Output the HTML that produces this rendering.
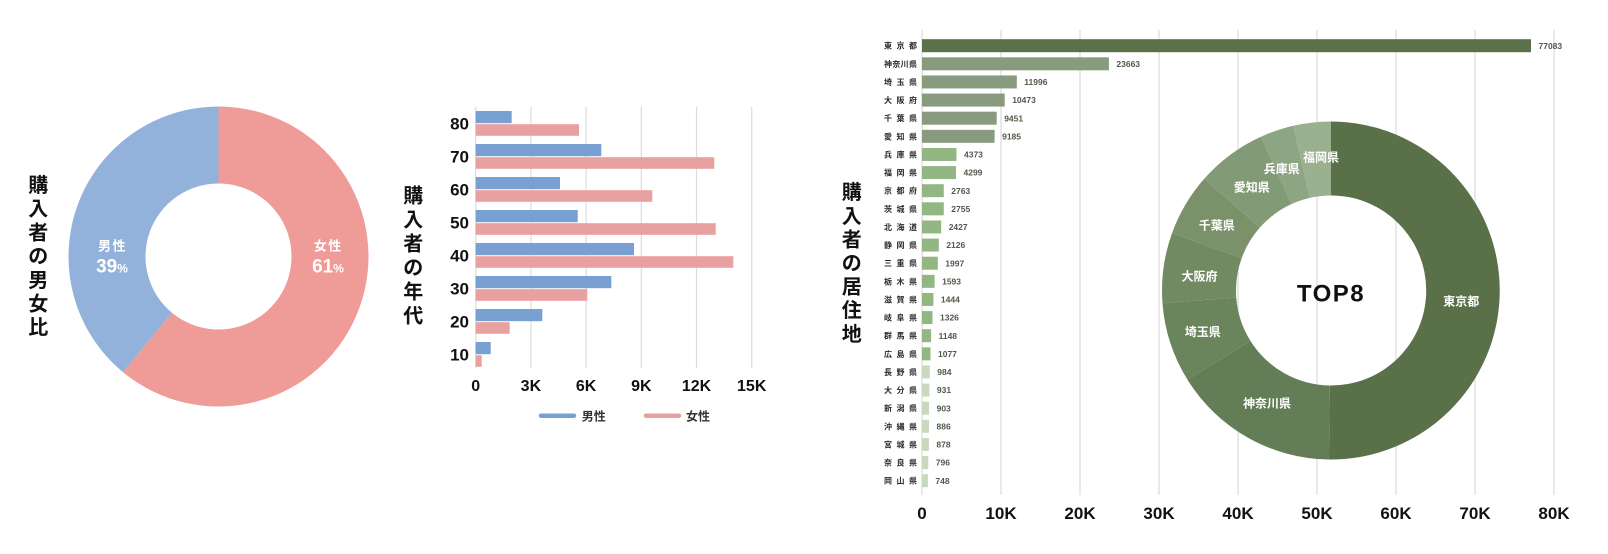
<!DOCTYPE html>
<html>
<head>
<meta charset="utf-8">
<style>
  html,body{margin:0;padding:0;background:#ffffff;}
  body{width:1608px;height:554px;overflow:hidden;}
  svg{display:block;font-family:"Liberation Sans","Noto Sans CJK JP",sans-serif;}
</style>
</head>
<body>
<svg width="1608" height="554" viewBox="0 0 1608 554" xmlns="http://www.w3.org/2000/svg">
  <rect x="0" y="0" width="1608" height="554" fill="#ffffff"/>

  <!-- ============ LEFT: gender donut ============ -->
  <g font-weight="bold" fill="#111" font-size="20" text-anchor="middle">
    <text x="38.3" y="192">購</text>
    <text x="38.3" y="215.7">入</text>
    <text x="38.3" y="239.4">者</text>
    <text x="38.3" y="263.1">の</text>
    <text x="38.3" y="286.8">男</text>
    <text x="38.3" y="310.5">女</text>
    <text x="38.3" y="334.2">比</text>
  </g>
  <path d="M218.5,106.5 A150,150 0 1 1 122.89,372.08 L171.97,312.75 A73,73 0 1 0 218.5,183.5 Z" fill="#ef9b98"/>
  <path d="M122.89,372.08 A150,150 0 0 1 218.5,106.5 L218.5,183.5 A73,73 0 0 0 171.97,312.75 Z" fill="#93b2db"/>
  <g fill="#ffffff" font-weight="bold" text-anchor="middle">
    <text x="112.5" y="250.5" font-size="13" letter-spacing="1.5">男性</text>
    <text x="112" y="272.5" font-size="19">39<tspan font-size="12">%</tspan></text>
    <text x="328.3" y="250.5" font-size="13" letter-spacing="1.5">女性</text>
    <text x="328" y="272.5" font-size="19">61<tspan font-size="12">%</tspan></text>
  </g>

  <!-- ============ MIDDLE: age bar chart ============ -->
  <g font-weight="bold" fill="#111" font-size="20" text-anchor="middle">
    <text x="413.3" y="202.5">購</text>
    <text x="413.3" y="226.5">入</text>
    <text x="413.3" y="250.5">者</text>
    <text x="413.3" y="274.5">の</text>
    <text x="413.3" y="298.5">年</text>
    <text x="413.3" y="322.5">代</text>
  </g>
  <g stroke="#dcdcdc" stroke-width="1.2">
    <line x1="475.7" y1="106.7" x2="475.7" y2="368.3"/>
    <line x1="530.9" y1="106.7" x2="530.9" y2="368.3"/>
    <line x1="586.1" y1="106.7" x2="586.1" y2="368.3"/>
    <line x1="641.3" y1="106.7" x2="641.3" y2="368.3"/>
    <line x1="696.5" y1="106.7" x2="696.5" y2="368.3"/>
    <line x1="751.7" y1="106.7" x2="751.7" y2="368.3"/>
  </g>
  <g fill="#78a0d2">
    <rect x="475.7" y="111" width="36" height="12.2"/>
    <rect x="475.7" y="144" width="125.6" height="12.2"/>
    <rect x="475.7" y="177" width="84.3" height="12.2"/>
    <rect x="475.7" y="210" width="102" height="12.2"/>
    <rect x="475.7" y="243" width="158.3" height="12.2"/>
    <rect x="475.7" y="276" width="135.6" height="12.2"/>
    <rect x="475.7" y="309" width="66.6" height="12.2"/>
    <rect x="475.7" y="342" width="15" height="12.2"/>
  </g>
  <g fill="#e9a0a0">
    <rect x="475.7" y="124.2" width="103.3" height="11.6"/>
    <rect x="475.7" y="157.2" width="238.6" height="11.6"/>
    <rect x="475.7" y="190.2" width="176.6" height="11.6"/>
    <rect x="475.7" y="223.2" width="240" height="11.6"/>
    <rect x="475.7" y="256.2" width="257.6" height="11.6"/>
    <rect x="475.7" y="289.2" width="111.6" height="11.6"/>
    <rect x="475.7" y="322.2" width="34" height="11.6"/>
    <rect x="475.7" y="355.2" width="6" height="11.6"/>
  </g>
  <g font-weight="bold" fill="#111" font-size="17" text-anchor="end">
    <text x="469" y="129.3">80</text>
    <text x="469" y="162.3">70</text>
    <text x="469" y="195.3">60</text>
    <text x="469" y="228.3">50</text>
    <text x="469" y="261.3">40</text>
    <text x="469" y="294.3">30</text>
    <text x="469" y="327.3">20</text>
    <text x="469" y="360.3">10</text>
  </g>
  <g font-weight="bold" fill="#111" font-size="16" text-anchor="middle">
    <text x="475.7" y="391">0</text>
    <text x="530.9" y="391">3K</text>
    <text x="586.1" y="391">6K</text>
    <text x="641.3" y="391">9K</text>
    <text x="696.5" y="391">12K</text>
    <text x="751.7" y="391">15K</text>
  </g>
  <line x1="541" y1="415.7" x2="574" y2="415.7" stroke="#78a0d2" stroke-width="4.5" stroke-linecap="round"/>
  <text x="581.7" y="420.5" font-size="12" font-weight="bold" fill="#333">男性</text>
  <line x1="646" y1="415.7" x2="679" y2="415.7" stroke="#e9a0a0" stroke-width="4.5" stroke-linecap="round"/>
  <text x="686" y="420.5" font-size="12" font-weight="bold" fill="#333">女性</text>

  <!-- ============ RIGHT: residence bar chart ============ -->
  <g font-weight="bold" fill="#111" font-size="20" text-anchor="middle">
    <text x="851.7" y="199.2">購</text>
    <text x="851.7" y="222.8">入</text>
    <text x="851.7" y="246.4">者</text>
    <text x="851.7" y="270">の</text>
    <text x="851.7" y="293.6">居</text>
    <text x="851.7" y="317.2">住</text>
    <text x="851.7" y="340.8">地</text>
  </g>
  <g stroke="#dadada" stroke-width="1.2">
    <line x1="922" y1="30" x2="922" y2="495"/>
    <line x1="1001" y1="30" x2="1001" y2="495"/>
    <line x1="1080" y1="30" x2="1080" y2="495"/>
    <line x1="1159" y1="30" x2="1159" y2="495"/>
    <line x1="1238" y1="30" x2="1238" y2="495"/>
    <line x1="1317" y1="30" x2="1317" y2="495"/>
    <line x1="1396" y1="30" x2="1396" y2="495"/>
    <line x1="1475" y1="30" x2="1475" y2="495"/>
    <line x1="1554" y1="30" x2="1554" y2="495"/>
  </g>
  <!-- bars: center y = 45.7 + 18.125*i, height 13 -->
  <g>
    <rect x="922" y="39.2" width="609" height="13" fill="#5b7149"/>
    <rect x="922" y="57.33" width="186.9" height="13" fill="#889b7e"/>
    <rect x="922" y="75.45" width="94.8" height="13" fill="#889b7e"/>
    <rect x="922" y="93.58" width="82.7" height="13" fill="#889b7e"/>
    <rect x="922" y="111.7" width="74.7" height="13" fill="#889b7e"/>
    <rect x="922" y="129.83" width="72.6" height="13" fill="#889b7e"/>
    <rect x="922" y="147.95" width="34.5" height="13" fill="#93b783"/>
    <rect x="922" y="166.08" width="34" height="13" fill="#93b783"/>
    <rect x="922" y="184.2" width="21.8" height="13" fill="#93b783"/>
    <rect x="922" y="202.33" width="21.8" height="13" fill="#93b783"/>
    <rect x="922" y="220.45" width="19.2" height="13" fill="#93b783"/>
    <rect x="922" y="238.58" width="16.8" height="13" fill="#93b783"/>
    <rect x="922" y="256.7" width="15.8" height="13" fill="#93b783"/>
    <rect x="922" y="274.83" width="12.6" height="13" fill="#93b783"/>
    <rect x="922" y="292.95" width="11.4" height="13" fill="#93b783"/>
    <rect x="922" y="311.08" width="10.5" height="13" fill="#93b783"/>
    <rect x="922" y="329.2" width="9.1" height="13" fill="#93b783"/>
    <rect x="922" y="347.33" width="8.5" height="13" fill="#93b783"/>
    <rect x="922" y="365.45" width="7.8" height="13" fill="#c9d9bf"/>
    <rect x="922" y="383.58" width="7.4" height="13" fill="#c9d9bf"/>
    <rect x="922" y="401.7" width="7.1" height="13" fill="#c9d9bf"/>
    <rect x="922" y="419.83" width="7" height="13" fill="#c9d9bf"/>
    <rect x="922" y="437.95" width="6.9" height="13" fill="#c9d9bf"/>
    <rect x="922" y="456.08" width="6.3" height="13" fill="#c9d9bf"/>
    <rect x="922" y="474.2" width="5.9" height="13" fill="#c9d9bf"/>
  </g>
  <!-- category labels -->
  <g font-weight="bold" fill="#2b2b2b" font-size="8">
    <text x="884" y="48.7" textLength="33" lengthAdjust="spacing">東京都</text>
    <text x="884" y="66.83" textLength="33" lengthAdjust="spacing">神奈川県</text>
    <text x="884" y="84.95" textLength="33" lengthAdjust="spacing">埼玉県</text>
    <text x="884" y="103.08" textLength="33" lengthAdjust="spacing">大阪府</text>
    <text x="884" y="121.2" textLength="33" lengthAdjust="spacing">千葉県</text>
    <text x="884" y="139.33" textLength="33" lengthAdjust="spacing">愛知県</text>
    <text x="884" y="157.45" textLength="33" lengthAdjust="spacing">兵庫県</text>
    <text x="884" y="175.58" textLength="33" lengthAdjust="spacing">福岡県</text>
    <text x="884" y="193.7" textLength="33" lengthAdjust="spacing">京都府</text>
    <text x="884" y="211.83" textLength="33" lengthAdjust="spacing">茨城県</text>
    <text x="884" y="229.95" textLength="33" lengthAdjust="spacing">北海道</text>
    <text x="884" y="248.08" textLength="33" lengthAdjust="spacing">静岡県</text>
    <text x="884" y="266.2" textLength="33" lengthAdjust="spacing">三重県</text>
    <text x="884" y="284.33" textLength="33" lengthAdjust="spacing">栃木県</text>
    <text x="884" y="302.45" textLength="33" lengthAdjust="spacing">滋賀県</text>
    <text x="884" y="320.58" textLength="33" lengthAdjust="spacing">岐阜県</text>
    <text x="884" y="338.7" textLength="33" lengthAdjust="spacing">群馬県</text>
    <text x="884" y="356.83" textLength="33" lengthAdjust="spacing">広島県</text>
    <text x="884" y="374.95" textLength="33" lengthAdjust="spacing">長野県</text>
    <text x="884" y="393.08" textLength="33" lengthAdjust="spacing">大分県</text>
    <text x="884" y="411.2" textLength="33" lengthAdjust="spacing">新潟県</text>
    <text x="884" y="429.33" textLength="33" lengthAdjust="spacing">沖縄県</text>
    <text x="884" y="447.45" textLength="33" lengthAdjust="spacing">宮城県</text>
    <text x="884" y="465.58" textLength="33" lengthAdjust="spacing">奈良県</text>
    <text x="884" y="483.7" textLength="33" lengthAdjust="spacing">岡山県</text>
  </g>
  <!-- value labels -->
  <g fill="#4f5a49" font-size="8.5" font-weight="bold">
    <text x="1538.5" y="48.8">77083</text>
    <text x="1116.4" y="66.9">23663</text>
    <text x="1024.3" y="85">11996</text>
    <text x="1012.2" y="103.2">10473</text>
    <text x="1004.2" y="121.3">9451</text>
    <text x="1002.1" y="139.4">9185</text>
    <text x="964" y="157.5">4373</text>
    <text x="963.5" y="175.7">4299</text>
    <text x="951.3" y="193.8">2763</text>
    <text x="951.3" y="211.9">2755</text>
    <text x="948.7" y="230">2427</text>
    <text x="946.3" y="248.2">2126</text>
    <text x="945.3" y="266.3">1997</text>
    <text x="942.1" y="284.4">1593</text>
    <text x="940.9" y="302.5">1444</text>
    <text x="940" y="320.7">1326</text>
    <text x="938.6" y="338.8">1148</text>
    <text x="938" y="356.9">1077</text>
    <text x="937.3" y="375">984</text>
    <text x="936.9" y="393.2">931</text>
    <text x="936.6" y="411.3">903</text>
    <text x="936.5" y="429.4">886</text>
    <text x="936.4" y="447.5">878</text>
    <text x="935.8" y="465.7">796</text>
    <text x="935.4" y="483.8">748</text>
  </g>
  <g font-weight="bold" fill="#111" font-size="17" text-anchor="middle">
    <text x="922" y="519">0</text>
    <text x="1001" y="519">10K</text>
    <text x="1080" y="519">20K</text>
    <text x="1159" y="519">30K</text>
    <text x="1238" y="519">40K</text>
    <text x="1317" y="519">50K</text>
    <text x="1396" y="519">60K</text>
    <text x="1475" y="519">70K</text>
    <text x="1554" y="519">80K</text>
  </g>

  <!-- TOP8 donut -->
  <g>
    <path d="M1331,121.5 A169,169 0 1 1 1328.93,459.49 L1329.84,385.49 A95,95 0 1 0 1331,195.5 Z" fill="#5a7049"/>
    <path d="M1328.93,459.49 A169,169 0 0 1 1187.52,379.81 L1250.35,340.70 A95,95 0 0 0 1329.84,385.49 Z" fill="#637d56"/>
    <path d="M1187.52,379.81 A169,169 0 0 1 1162.48,303.17 L1236.27,297.62 A95,95 0 0 0 1250.35,340.70 Z" fill="#6a845c"/>
    <path d="M1162.48,303.17 A169,169 0 0 1 1172.09,232.98 L1241.67,258.16 A95,95 0 0 0 1236.27,297.62 Z" fill="#718a62"/>
    <path d="M1172.09,232.98 A169,169 0 0 1 1204.23,178.74 L1259.74,227.68 A95,95 0 0 0 1241.67,258.16 Z" fill="#7a916a"/>
    <path d="M1204.23,178.74 A169,169 0 0 1 1260.92,136.72 L1291.60,204.05 A95,95 0 0 0 1259.74,227.68 Z" fill="#839a77"/>
    <path d="M1260.92,136.72 A169,169 0 0 1 1293.27,125.77 L1309.79,197.90 A95,95 0 0 0 1291.60,204.05 Z" fill="#8ea583"/>
    <path d="M1293.27,125.77 A169,169 0 0 1 1331,121.5 L1331,195.5 A95,95 0 0 0 1309.79,197.90 Z" fill="#9bb08f"/>
  </g>
  <g fill="#ffffff" font-weight="bold" font-size="12" text-anchor="middle">
    <text x="1461.3" y="305.7">東京都</text>
    <text x="1267" y="407.5">神奈川県</text>
    <text x="1202.8" y="336.2">埼玉県</text>
    <text x="1199.5" y="280.5">大阪府</text>
    <text x="1216.7" y="229.5">千葉県</text>
    <text x="1251.7" y="191.3">愛知県</text>
    <text x="1281.7" y="172.8">兵庫県</text>
    <text x="1321" y="161.5">福岡県</text>
  </g>
  <text x="1331" y="301.5" font-size="24" font-weight="bold" fill="#111" text-anchor="middle" letter-spacing="1.5">TOP8</text>
</svg>
</body>
</html>
